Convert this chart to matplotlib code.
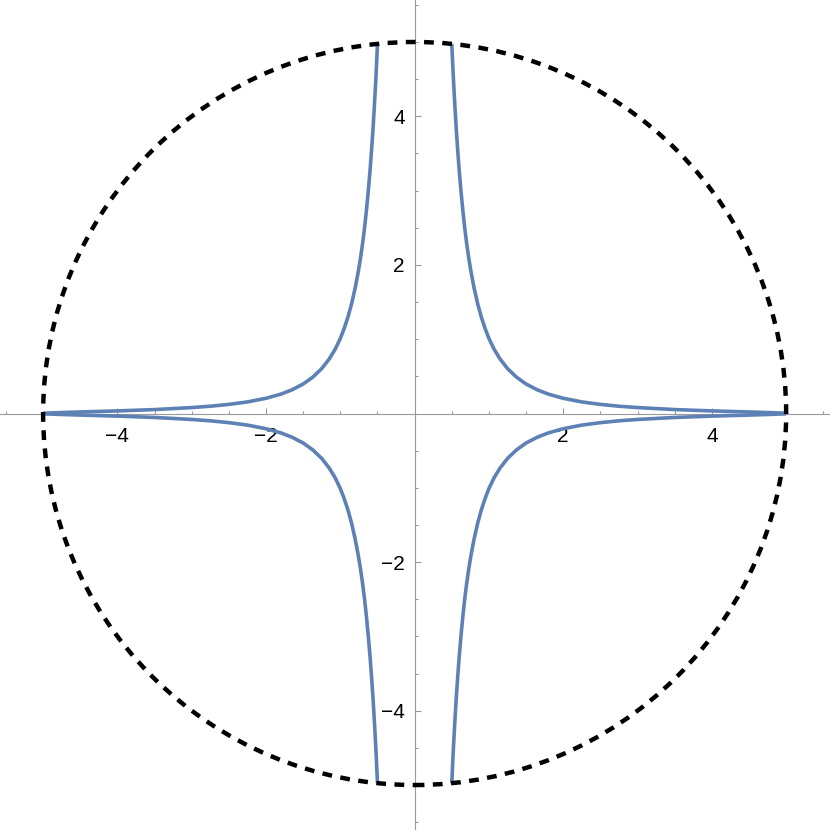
import matplotlib
matplotlib.use('Agg')
import matplotlib.pyplot as plt
from matplotlib.patches import Circle
import numpy as np

# Upper-right branch of the curve; the other three
# branches are its mirror images across the axes.
branch_x = [0.500, 0.520, 0.540, 0.560, 0.580, 0.600, 0.625, 0.650, 0.675, 0.700,
            0.730, 0.760, 0.800, 0.850, 0.900, 0.950, 1.000, 1.070, 1.150, 1.250,
            1.370, 1.500, 1.650, 1.800, 2.000, 2.250, 2.500, 2.750, 3.000, 3.500,
            4.000, 4.500, 4.750, 5.000]
branch_y = [4.975, 4.54, 4.17, 3.83, 3.54, 3.27, 2.98, 2.72, 2.49, 2.29,
            2.08, 1.90, 1.69, 1.47, 1.29, 1.14, 1.01, 0.864, 0.733, 0.605,
            0.490, 0.397, 0.319, 0.261, 0.205, 0.156, 0.123, 0.098, 0.080, 0.053,
            0.035, 0.021, 0.013, 0.004]

circle_radius = 5

major_ticks = [-4, -2, 2, 4]
major_labels = ['\u22124', '\u22122', '2', '4']
minor_ticks = [-5.5, -5.0, -4.5, -3.5, -3.0, -2.5, -1.5, -1.0, -0.5,
               0.5, 1.0, 1.5, 2.5, 3.0, 3.5, 4.5, 5.0, 5.5]

curve_color = '#5E81B5'
axis_color = '#999999'

plt.rcParams['font.family'] = ['Liberation Sans', 'DejaVu Sans']

fig = plt.figure(figsize=(8.3, 8.3), dpi=100)
ax = fig.add_axes([0, 0, 1, 1])

bx = np.array(branch_x)
by = np.array(branch_y)
for sx in (1, -1):
    for sy in (1, -1):
        ax.plot(sx * bx, sy * by, color=curve_color, lw=2.6,
                solid_capstyle='butt', solid_joinstyle='round', zorder=2)

circ = Circle((0, 0), circle_radius, fill=False, edgecolor='black', lw=3.2,
              linestyle=(0, (2.2, 1.9)), zorder=3)
ax.add_patch(circ)

ax.set_xlim(-5.58, 5.59)
ax.set_ylim(-5.605, 5.565)

for s in ('top', 'right'):
    ax.spines[s].set_visible(False)
for s in ('left', 'bottom'):
    ax.spines[s].set_position(('data', 0))
    ax.spines[s].set_color(axis_color)
    ax.spines[s].set_linewidth(0.8)
    ax.spines[s].set_zorder(1)

ax.set_xticks(major_ticks)
ax.set_xticklabels(major_labels)
ax.set_yticks(major_ticks)
ax.set_yticklabels(major_labels)
ax.set_xticks(minor_ticks, minor=True)
ax.set_yticks(minor_ticks, minor=True)

ax.tick_params(which='both', direction='in', color=axis_color, width=0.8,
               labelsize=15, labelcolor='black')
ax.tick_params(which='major', length=4.2)
ax.tick_params(which='minor', length=2.2)
ax.tick_params(axis='x', which='major', pad=10)
ax.tick_params(axis='y', which='major', pad=7)

ax.patch.set_visible(False)
fig.savefig('out.png', dpi=100, facecolor='white')
